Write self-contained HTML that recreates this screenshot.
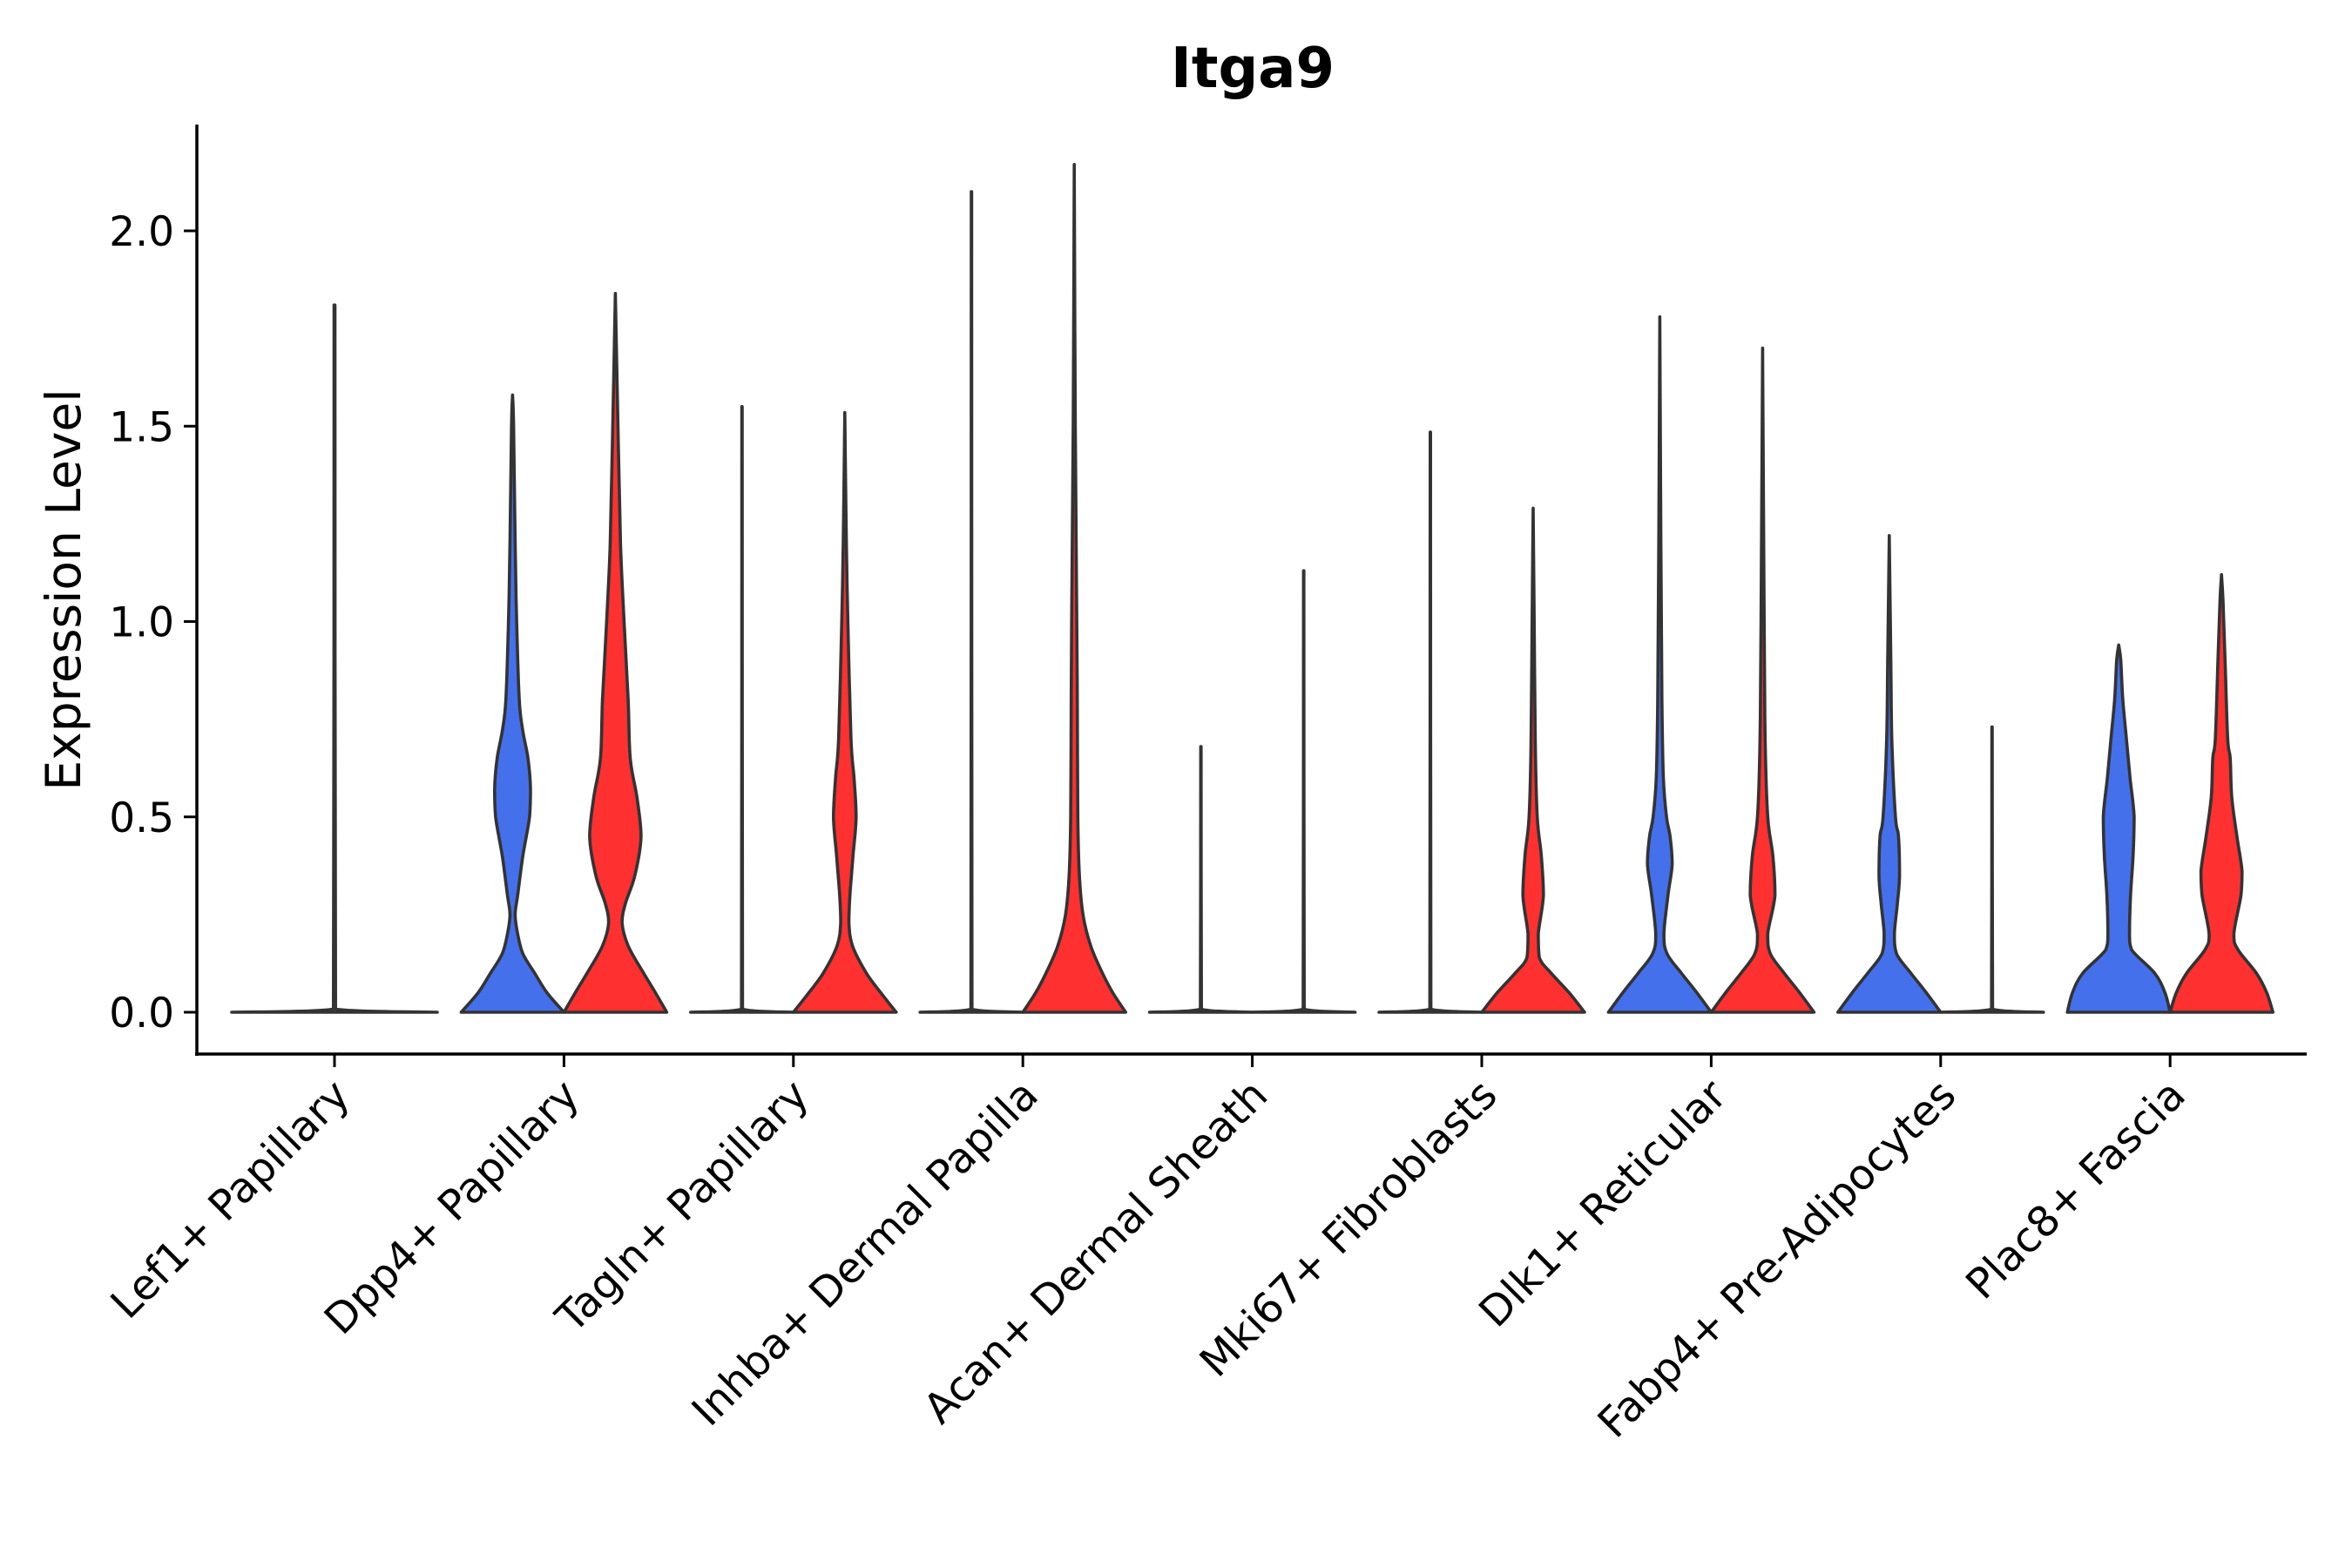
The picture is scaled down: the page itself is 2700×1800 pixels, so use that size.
<!DOCTYPE html>
<html><head><meta charset="utf-8"><style>
html,body{margin:0;padding:0;background:#fff;}
svg{display:block;}
text{font-family:"DejaVu Sans","Liberation Sans",sans-serif;fill:#000;}
</style></head><body>
<svg id="chart" width="2700" height="1800" viewBox="0 0 2700 1800" xmlns="http://www.w3.org/2000/svg">
<text x="1438" y="100" font-size="64" font-weight="bold" text-anchor="middle">Itga9</text>
<text transform="translate(92,677) rotate(-90)" font-size="55" text-anchor="middle">Expression Level</text>
<g id="plot"></g>
</svg>
<script>
const categories = ["Lef1+ Papillary","Dpp4+ Papillary","Tagln+ Papillary","Inhba+ Dermal Papilla","Acan+ Dermal Sheath","Mki67+ Fibroblasts","Dlk1+ Reticular","Fabp4+ Pre-Adipocytes","Plac8+ Fascia"];
const yTicks = [0,0.5,1,1.5,2];
const yTickLabels = ["0.0","0.5","1.0","1.5","2.0"];
const flat = m => [[0,1],[0.008,0.01],[m,0.004]];
const lef1 = flat(1.81);
const dpp4Blue = [[0,1],[0.05,0.67],[0.1,0.43],[0.15,0.2],[0.2,0.1],[0.25,0.05],[0.3,0.1],[0.4,0.2],[0.5,0.33],[0.57,0.35],[0.65,0.3],[0.72,0.2],[0.8,0.13],[1.0,0.08],[1.2,0.05],[1.5,0.02],[1.58,0]];
const dpp4Red = [[0,1],[0.05,0.78],[0.1,0.55],[0.17,0.25],[0.23,0.13],[0.28,0.2],[0.35,0.38],[0.45,0.5],[0.55,0.42],[0.65,0.29],[0.8,0.25],[1.0,0.17],[1.2,0.1],[1.5,0.05],[1.84,0]];
const taglnBlue = flat(1.55);
const taglnRed = [[0,1],[0.05,0.7],[0.1,0.42],[0.17,0.15],[0.23,0.08],[0.3,0.1],[0.4,0.16],[0.5,0.22],[0.6,0.18],[0.7,0.12],[1.0,0.06],[1.2,0.03],[1.535,0]];
const inhbaBlue = flat(2.10);
const inhbaRed = [[0,1],[0.05,0.75],[0.1,0.55],[0.17,0.32],[0.25,0.17],[0.35,0.1],[0.5,0.07],[0.8,0.06],[1.0,0.05],[1.5,0.02],[2.17,0]];
const acanBlue = flat(0.68);
const acanRed = flat(1.13);
const mki67Blue = flat(1.485);
const mki67Red = [[0,1],[0.05,0.7],[0.1,0.35],[0.14,0.12],[0.2,0.1],[0.3,0.2],[0.4,0.16],[0.5,0.08],[0.7,0.04],[1.0,0.02],[1.29,0]];
const dlk1Blue = [[0,1],[0.05,0.72],[0.1,0.42],[0.15,0.14],[0.2,0.08],[0.3,0.16],[0.38,0.24],[0.45,0.2],[0.5,0.13],[0.6,0.07],[0.8,0.04],[1.2,0.02],[1.78,0]];
const dlk1Red = [[0,1],[0.05,0.72],[0.1,0.42],[0.15,0.15],[0.2,0.1],[0.3,0.24],[0.4,0.2],[0.5,0.1],[0.7,0.05],[1.0,0.03],[1.7,0]];
const fabp4Blue = [[0,1],[0.05,0.72],[0.1,0.42],[0.15,0.14],[0.2,0.1],[0.28,0.16],[0.35,0.2],[0.45,0.18],[0.5,0.12],[0.7,0.05],[0.9,0.03],[1.22,0]];
const fabp4Red = flat(0.73);
const plac8Blue = [[0,1],[0.05,0.9],[0.1,0.7],[0.16,0.25],[0.2,0.21],[0.3,0.23],[0.4,0.28],[0.5,0.3],[0.6,0.22],[0.7,0.15],[0.8,0.08],[0.9,0.04],[0.94,0]];
const plac8Red = [[0,1],[0.05,0.88],[0.1,0.68],[0.16,0.32],[0.2,0.24],[0.3,0.38],[0.36,0.4],[0.45,0.3],[0.55,0.2],[0.65,0.17],[0.7,0.12],[0.9,0.07],[1.05,0.03],[1.12,0]];
const violinCategory = [0,1,1,2,2,3,3,4,4,5,5,6,6,7,7,8,8];
const violinSide = [0,-1,1,-1,1,-1,1,-1,1,-1,1,-1,1,-1,1,-1,1];
const violinProfiles = [lef1,dpp4Blue,dpp4Red,taglnBlue,taglnRed,inhbaBlue,inhbaRed,acanBlue,acanRed,mki67Blue,mki67Red,dlk1Blue,dlk1Red,fabp4Blue,fabp4Red,plac8Blue,plac8Red];

const NS = "http://www.w3.org/2000/svg";
const plot = document.getElementById('plot');
const X0 = 384, XSTEP = 263.4, Y0 = 1162, YUNIT = 448.5, HALF = 59;
const xScale = i => X0 + i * XSTEP;
const yScale = v => Y0 - v * YUNIT;
function mk(tag, attrs){ const e = document.createElementNS(NS, tag); for (const k in attrs) e.setAttribute(k, attrs[k]); return e; }
const f = n => n.toFixed(1);
const clamp = (v, a, b) => Math.min(Math.max(v, Math.min(a, b)), Math.max(a, b));
function smooth(pts){
  let d = '';
  for (let i = 0; i < pts.length - 1; i++) {
    const p0 = pts[Math.max(0, i - 1)], p1 = pts[i], p2 = pts[i + 1], p3 = pts[Math.min(pts.length - 1, i + 2)];
    const c1 = [clamp(p1[0] + (p2[0] - p0[0]) / 6, p1[0], p2[0]), clamp(p1[1] + (p2[1] - p0[1]) / 6, p1[1], p2[1])];
    const c2 = [clamp(p2[0] - (p3[0] - p1[0]) / 6, p1[0], p2[0]), clamp(p2[1] - (p3[1] - p1[1]) / 6, p1[1], p2[1])];
    d += 'C' + f(c1[0]) + ',' + f(c1[1]) + ' ' + f(c2[0]) + ',' + f(c2[1]) + ' ' + f(p2[0]) + ',' + f(p2[1]);
  }
  return d;
}

violinProfiles.forEach((prof, k) => {
  const side = violinSide[k];
  const cx = xScale(violinCategory[k]) + side * HALF;
  const hw = side === 0 ? 2 * HALF : HALF;
  const left = prof.map(p => [cx - p[1] * hw, yScale(p[0])]);
  const right = prof.slice().reverse().map(p => [cx + p[1] * hw, yScale(p[0])]);
  const d = 'M' + f(left[0][0]) + ',' + f(left[0][1]) + smooth(left) + 'L' + f(right[0][0]) + ',' + f(right[0][1]) + smooth(right) + 'Z';
  const fill = side === -1 ? '#4470EC' : (side === 1 ? '#FF3030' : '#888');
  const path = mk('path', {d: d, fill: fill, stroke: '#333', 'stroke-width': 3.6, 'stroke-linejoin': 'round'});
  
  
  plot.appendChild(path);
});

const yAxis = mk('line', {x1: 226, y1: 143, x2: 226, y2: 1212, stroke: '#000', 'stroke-width': 3.5});


plot.appendChild(yAxis);
const xAxis = mk('line', {x1: 224, y1: 1210, x2: 2648, y2: 1210, stroke: '#000', 'stroke-width': 3.5});


plot.appendChild(xAxis);

yTicks.forEach((v, i) => {
  const y = yScale(v);
  const t = mk('line', {x1: 211, y1: y, x2: 226, y2: y, stroke: '#000', 'stroke-width': 3});
  
  
  plot.appendChild(t);
  const lb = mk('text', {x: 200, y: y + 17, 'font-size': 47, 'text-anchor': 'end'});
  lb.textContent = yTickLabels[i];
  
  
  plot.appendChild(lb);
});

categories.forEach((c, i) => {
  const x = xScale(i);
  const t = mk('line', {x1: x, y1: 1210, x2: x, y2: 1225, stroke: '#000', 'stroke-width': 3});
  
  
  plot.appendChild(t);
  const lb = mk('text', {transform: 'translate(' + (x + 20) + ',1260) rotate(-45)', 'font-size': 48, 'text-anchor': 'end'});
  lb.textContent = c;
  
  
  plot.appendChild(lb);
});
</script>
</body></html>
